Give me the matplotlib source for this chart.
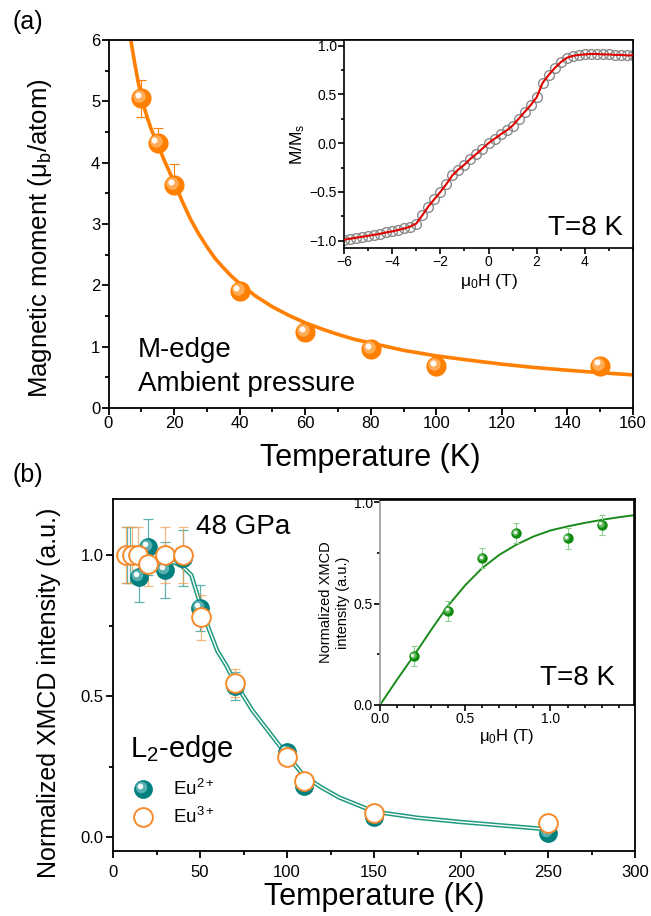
import matplotlib
matplotlib.use('Agg')
import matplotlib.pyplot as plt
from matplotlib.transforms import offset_copy
from matplotlib.ticker import MultipleLocator, FormatStrFormatter

plt.rcParams['font.family'] = ['Liberation Sans', 'DejaVu Sans']
plt.rcParams['mathtext.fontset'] = 'custom'
plt.rcParams['mathtext.rm'] = 'Liberation Sans'
plt.rcParams['mathtext.it'] = 'Liberation Sans:italic'
plt.rcParams['mathtext.bf'] = 'Liberation Sans:bold'

# ---------------- data: panel (a) ----------------
temp_a = [10, 15, 20, 40, 60, 80, 100, 150]
moment_a = [5.05, 4.32, 3.64, 1.9, 1.24, 0.96, 0.68, 0.69]
moment_err_lo = [0.30, 0.11, 0.10, 0.05, 0.05, 0.05, 0.05, 0.05]
moment_err_hi = [0.30, 0.25, 0.34, 0.05, 0.05, 0.05, 0.05, 0.05]
fit_temp_a = [6.8, 8, 9, 10, 11, 12, 13, 14, 15, 16, 17, 18, 19, 20, 22.5, 25,
              27.5, 30, 32.5, 35, 37.5, 40, 45, 50, 55, 60, 65, 70, 75, 80, 90,
              100, 110, 120, 130, 140, 150, 160]
fit_moment_a = [6.0, 5.62, 5.33, 5.08, 4.88, 4.71, 4.55, 4.42, 4.3, 4.17, 4.04,
                3.92, 3.80, 3.68, 3.37, 3.08, 2.84, 2.63, 2.44, 2.29, 2.15,
                2.03, 1.82, 1.65, 1.51, 1.39, 1.29, 1.20, 1.12, 1.06, 0.94,
                0.85, 0.78, 0.715, 0.66, 0.616, 0.576, 0.54]

# inset (a): M/Ms vs field
field_a = [-6.0, -5.75, -5.5, -5.25, -5.0, -4.75, -4.5, -4.25, -4.0, -3.75,
           -3.5, -3.25, -3.0, -2.75, -2.5, -2.25, -2.0, -1.75, -1.5, -1.25,
           -1.0, -0.75, -0.5, -0.25, 0.0, 0.25, 0.5, 0.75, 1.0, 1.25, 1.5,
           1.75, 2.0, 2.25, 2.5, 2.75, 3.0, 3.25, 3.5, 3.75, 4.0, 4.25, 4.5,
           4.75, 5.0, 5.25, 5.5, 5.75, 6.0]
mms_a = [-0.99, -0.98, -0.97, -0.96, -0.95, -0.94, -0.93, -0.915, -0.905,
         -0.89, -0.875, -0.855, -0.825, -0.74, -0.65, -0.575, -0.50, -0.42,
         -0.33, -0.27, -0.22, -0.16, -0.11, -0.055, 0.0, 0.045, 0.09, 0.13,
         0.18, 0.25, 0.32, 0.39, 0.47, 0.62, 0.70, 0.77, 0.83, 0.875, 0.895,
         0.905, 0.91, 0.915, 0.915, 0.91, 0.91, 0.905, 0.905, 0.90, 0.90]

# ---------------- data: panel (b) ----------------
temp_eu2 = [8, 10, 15, 20, 30, 40, 50, 70, 100, 110, 150, 250]
xmcd_eu2 = [1.0, 1.0, 0.924, 1.03, 0.948, 0.99, 0.813, 0.535, 0.30, 0.18, 0.07, 0.015]
err_eu2 = [0.1, 0.1, 0.09, 0.1, 0.1, 0.1, 0.08, 0.05, 0.02, 0.02, 0.02, 0.02]
temp_eu3 = [7.3, 10.7, 14.6, 20.3, 30, 40, 50.4, 70, 100, 110, 150, 250]
xmcd_eu3 = [1.0, 1.0, 1.0, 0.97, 1.0, 1.0, 0.78, 0.548, 0.283, 0.20, 0.084, 0.05]
err_eu3 = [0.1, 0.1, 0.1, 0.08, 0.1, 0.1, 0.08, 0.05, 0.02, 0.02, 0.02, 0.02]
fit_temp_b = [5, 10, 20, 30, 35, 40, 45, 50, 55, 60, 65, 70, 80, 90, 100, 110,
              120, 130, 150, 175, 200, 225, 250]
fit_xmcd_b = [0.985, 0.985, 0.985, 0.98, 0.975, 0.96, 0.93, 0.83, 0.74, 0.66,
              0.61, 0.55, 0.45, 0.37, 0.29, 0.215, 0.175, 0.14, 0.09, 0.068,
              0.053, 0.04, 0.027]
legend_labels = ['Eu$^{2+}$', 'Eu$^{3+}$']

# inset (b)
field_b = [0.2, 0.4, 0.6, 0.8, 1.1, 1.3]
xmcd_field_b = [0.24, 0.464, 0.723, 0.846, 0.821, 0.887]
err_field_b = [0.05, 0.05, 0.05, 0.05, 0.05, 0.05]
fit_field_b = [0, 0.1, 0.2, 0.3, 0.4, 0.5, 0.6, 0.7, 0.8, 0.9, 1.0, 1.1, 1.2,
               1.3, 1.4, 1.49]
fit_xmcd_field_b = [0, 0.125, 0.245, 0.37, 0.49, 0.59, 0.675, 0.74, 0.79,
                    0.83, 0.86, 0.88, 0.897, 0.912, 0.925, 0.935]

ORANGE = '#ff7f00'
OPEN_ORANGE = '#f58a2a'
TEAL = '#007f7f'
GREEN = '#0f8a0f'

W, H = 651, 916
fig = plt.figure(figsize=(W / 100, H / 100), dpi=100)


def rect(l, t, r, b):
    return [l / W, 1 - b / H, (r - l) / W, (b - t) / H]


def ftext(x, y, s, **kw):
    fig.text(x / W, 1 - y / H, s, **kw)


def ball(ax, x, y, color, light, ms, z, base=None):
    base = ax.transData if base is None else base
    ax.plot(x, y, 'o', ls='none', ms=ms, color=color, mec=color, mew=0, zorder=z,
            clip_on=False, transform=base)
    tr1 = offset_copy(base, fig=fig, x=-ms * 0.1, y=ms * 0.1, units='points')
    ax.plot(x, y, 'o', ls='none', ms=ms * 0.62, color=light, alpha=0.55, mew=0,
            transform=tr1, zorder=z + 0.1, clip_on=False)
    tr2 = offset_copy(base, fig=fig, x=-ms * 0.16, y=ms * 0.16, units='points')
    ax.plot(x, y, 'o', ls='none', ms=ms * 0.3, color='white', alpha=0.95, mew=0,
            transform=tr2, zorder=z + 0.2, clip_on=False)


def style_axis(ax, lw=1.3, maj=5, mnr=2.8, size=12, xpad=1, ypad=1):
    for s in ax.spines.values():
        s.set_linewidth(lw)
    ax.tick_params(which='both', direction='out', width=lw, labelsize=size,
                   top=False, right=False)
    ax.tick_params(which='major', length=maj)
    ax.tick_params(which='minor', length=mnr)
    ax.tick_params(axis='x', pad=xpad)
    ax.tick_params(axis='y', pad=ypad)


# ================= panel (a) =================
axA = fig.add_axes(rect(108.5, 40, 633, 408))
axA.plot(fit_temp_a, fit_moment_a, color=ORANGE, lw=2.6, zorder=2)
axA.errorbar(temp_a, moment_a, yerr=[moment_err_lo, moment_err_hi], fmt='none',
             ecolor=ORANGE, elinewidth=0.8, capsize=3.5, capthick=0.8, zorder=3)
ball(axA, temp_a, moment_a, ORANGE, '#ffd2a0', 14.5, 4)
axA.set_xlim(0, 160)
axA.set_ylim(0, 6)
axA.xaxis.set_major_locator(MultipleLocator(20))
axA.xaxis.set_minor_locator(MultipleLocator(10))
axA.yaxis.set_major_locator(MultipleLocator(1))
axA.yaxis.set_minor_locator(MultipleLocator(0.5))
style_axis(axA, xpad=1, ypad=1)
axA.set_xlabel('Temperature (K)', fontsize=22, va='top')
axA.xaxis.set_label_coords(0.5, (408 - 443) / 368)
axA.set_ylabel('Magnetic moment (μ$_\\mathrm{b}$/atom)', fontsize=18.5)
axA.yaxis.set_label_coords((54 - 108.5) / 524.5, 0.462)

ftext(12, 22, '(a)', fontsize=18, va='center', ha='left')
ftext(138, 350, 'M-edge', fontsize=20, va='center', ha='left')
ftext(138, 384, 'Ambient pressure', fontsize=20, va='center', ha='left')

# inset (a)
axAi = fig.add_axes(rect(344, 40, 633, 248))
axAi.plot(field_a, mms_a, 'o', ls='none', ms=7, mfc='none', mec='#8a8a8a',
          mew=1.0, zorder=2)
axAi.plot(field_a, mms_a, color='#e00000', lw=1.5, zorder=3)
axAi.set_xlim(-6, 6)
axAi.set_ylim(-1.075, 1.058)
axAi.xaxis.set_major_locator(MultipleLocator(2))
axAi.xaxis.set_minor_locator(MultipleLocator(1))
axAi.yaxis.set_major_locator(MultipleLocator(0.5))
axAi.yaxis.set_minor_locator(MultipleLocator(0.25))
style_axis(axAi, lw=1.2, maj=4, mnr=2.5, size=10)
axAi.set_xticks([-6, -4, -2, 0, 2, 4])
axAi.set_xlabel('μ$_0$H (T)', fontsize=12.5, labelpad=2)
axAi.set_ylabel('M/M$_\\mathrm{s}$', fontsize=12.5, labelpad=2)
ftext(623, 235, 'T=8 K', fontsize=20, ha='right', va='baseline')

# ================= panel (b) =================
axB = fig.add_axes(rect(113, 499, 635, 851))
axB.plot(fit_temp_b, fit_xmcd_b, color='#1f9a80', lw=3.2, zorder=2,
         solid_capstyle='butt')
axB.plot(fit_temp_b, fit_xmcd_b, color='white', lw=1.0, zorder=2.1,
         solid_capstyle='butt')
axB.errorbar(temp_eu2, xmcd_eu2, yerr=err_eu2, fmt='none', ecolor='#2a9a9a',
             elinewidth=0.9, capsize=3.5, capthick=0.9, alpha=0.75, zorder=3)
axB.errorbar(temp_eu3, xmcd_eu3, yerr=err_eu3, fmt='none', ecolor='#f0a050',
             elinewidth=0.9, capsize=3.5, capthick=0.9, alpha=0.75, zorder=3)
ball(axB, temp_eu2, xmcd_eu2, TEAL, '#9fd8d8', 13.5, 4)
axB.plot(temp_eu3, xmcd_eu3, 'o', ls='none', ms=13.5, mfc='white', mec=OPEN_ORANGE,
         mew=1.4, zorder=5, clip_on=False)
axB.set_xlim(0, 300)
axB.set_ylim(-0.05, 1.2)
axB.xaxis.set_major_locator(MultipleLocator(50))
axB.xaxis.set_minor_locator(MultipleLocator(25))
axB.yaxis.set_major_locator(MultipleLocator(0.5))
axB.yaxis.set_minor_locator(MultipleLocator(0.25))
style_axis(axB, xpad=5, ypad=2)
axB.set_xlabel('Temperature (K)', fontsize=22, va='top')
axB.xaxis.set_label_coords(0.5, (851 - 882) / 352)
axB.set_ylabel('Normalized XMCD intensity (a.u.)', fontsize=18)
axB.yaxis.set_label_coords((61 - 113) / 522, 0.45)

ftext(12, 475, '(b)', fontsize=18, va='center', ha='left')
ftext(196, 534, '48 GPa', fontsize=20, va='baseline', ha='left')
ftext(130, 757, 'L$_2$-edge', fontsize=21, va='baseline', ha='left')

# legend (drawn by hand, in axes coordinates)
leg_x = (143 - 113) / 522
leg_y = [(851 - 789) / 352, (851 - 817) / 352]
ball(axB, [leg_x], [leg_y[0]], TEAL, '#9fd8d8', 13.5, 6, base=axB.transAxes)
axB.plot([leg_x], [leg_y[1]], 'o', ms=13.5, mfc='white', mec=OPEN_ORANGE, mew=1.4,
         transform=axB.transAxes, zorder=6, clip_on=False)
for yy, lab in zip(leg_y, legend_labels):
    axB.text((173 - 113) / 522, yy, lab, transform=axB.transAxes, fontsize=13.5,
             va='center', ha='left')

# inset (b)
axBi = fig.add_axes(rect(380, 500, 634, 705))
axBi.plot(fit_field_b, fit_xmcd_field_b, color='#1a8a1a', lw=1.4, zorder=2)
axBi.errorbar(field_b, xmcd_field_b, yerr=err_field_b, fmt='none',
              ecolor='#8fcf8f', elinewidth=0.8, capsize=2.5, capthick=0.8, zorder=3)
ball(axBi, field_b, xmcd_field_b, GREEN, '#a8e0a8', 7.5, 4)
axBi.set_xlim(0, 1.49)
axBi.set_ylim(0, 1.01)
axBi.xaxis.set_major_locator(MultipleLocator(0.5))
axBi.xaxis.set_minor_locator(MultipleLocator(0.1))
axBi.yaxis.set_major_locator(MultipleLocator(0.5))
axBi.yaxis.set_minor_locator(MultipleLocator(0.25))
style_axis(axBi, lw=1.2, maj=4, mnr=2.2, size=10, xpad=1, ypad=1)
axBi.spines['left'].set_color('#9a9a9a')
axBi.xaxis.set_major_formatter(FormatStrFormatter('%.1f'))
axBi.yaxis.set_major_formatter(FormatStrFormatter('%.1f'))
axBi.set_xlabel('μ$_0$H (T)', fontsize=12, labelpad=1)
axBi.set_ylabel('Normalized XMCD\nintensity (a.u.)', fontsize=10.5, labelpad=3)
ftext(615, 685, 'T=8 K', fontsize=20, ha='right', va='baseline')

fig.savefig('out.png', dpi=100)
